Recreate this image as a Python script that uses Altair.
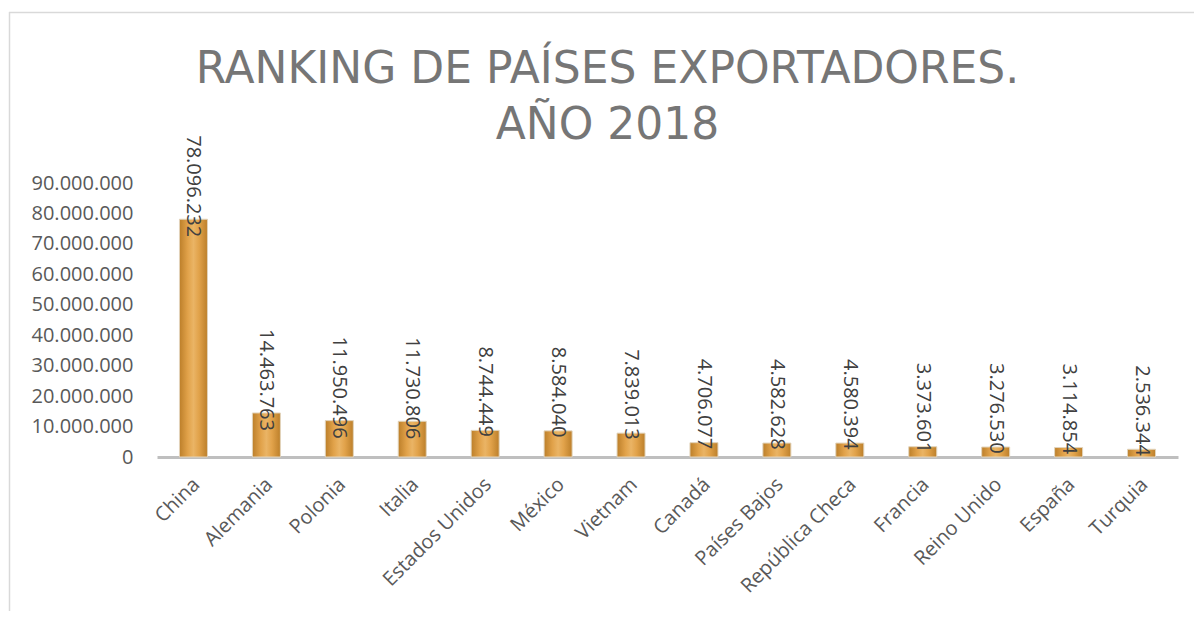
import altair as alt
import pandas as pd

paises = ["China", "Alemania", "Polonia", "Italia", "Estados Unidos", "México",
          "Vietnam", "Canadá", "Países Bajos", "República Checa", "Francia",
          "Reino Unido", "España", "Turquia"]
valores = [78096232, 14463763, 11950496, 11730806, 8744449, 8584040, 7839013,
           4706077, 4582628, 4580394, 3373601, 3276530, 3114854, 2536344]
y_ticks = [0, 10000000, 20000000, 30000000, 40000000, 50000000,
           60000000, 70000000, 80000000, 90000000]
titulo = ["RANKING DE PAÍSES EXPORTADORES.", "AÑO 2018"]

df = pd.DataFrame({
    "pais": paises,
    "valor": valores,
    "etiqueta": [f"{v:,}".replace(",", ".") for v in valores],
})

FONT = "Open Sans"

x = alt.X("pais:N", sort=paises, title=None,
          scale=alt.Scale(paddingInner=0.616, paddingOuter=0.308),
          axis=alt.Axis(labelAngle=-45, labelFontSize=20, labelFont=FONT,
                        labelColor="#595959", ticks=False, labelPadding=17,
                        labelOffset=-4, labelOverlap=False,
                        domainColor="#BFBFBF", domainWidth=3))
y = alt.Y("valor:Q", title=None,
          scale=alt.Scale(domain=[0, 90000000], nice=False),
          axis=alt.Axis(values=y_ticks, grid=False, domain=False, ticks=False,
                        labelFontSize=20, labelFont=FONT, labelColor="#595959",
                        labelPadding=24, labelOverlap=False,
                        labelExpr="replace(format(datum.value, ','), regexp(',', 'g'), '.')"))

grad = alt.LinearGradient(
    gradient="linear",
    stops=[alt.GradientStop(color="#BC7F2A", offset=0),
           alt.GradientStop(color="#E1A24A", offset=0.3),
           alt.GradientStop(color="#EAB465", offset=0.5),
           alt.GradientStop(color="#E1A24A", offset=0.7),
           alt.GradientStop(color="#BC7F2A", offset=1)],
    x1=0, x2=1, y1=0, y2=0)

bars = alt.Chart(df).mark_bar(color=grad, stroke="#E2D4BC", strokeWidth=1).encode(x=x, y=y)

labels = alt.Chart(df).mark_text(
    angle=90, align="left", baseline="middle", dx=-84,
    fontSize=20, font=FONT, color="#404040"
).encode(x=x, y=y, text="etiqueta:N")

frame = pd.DataFrame({"k": [0]})
left_border = alt.Chart(frame).mark_rule(color="#D9D9D9", strokeWidth=1.5).encode(
    x=alt.value(-147.5), y=alt.value(-171), y2=alt.value(470))
top_border = alt.Chart(frame).mark_rule(color="#D9D9D9", strokeWidth=1.5).encode(
    x=alt.value(-148), x2=alt.value(1100), y=alt.value(-170.5))

chart = alt.layer(bars, labels, left_border, top_border).properties(
    width=1021, height=274,
    padding={"left": 149, "top": 175, "right": 16, "bottom": 154},
    autosize=alt.AutoSizeParams(type="none"),
    title=alt.TitleParams(text=titulo, fontSize=44, font="DejaVu Sans",
                          fontWeight="normal", color="#767676", anchor="middle",
                          dx=-60, dy=147, lineHeight=56, offset=10),
).configure_view(stroke=None)

chart.save("out.html", embed_options={"renderer": "svg", "actions": False})
